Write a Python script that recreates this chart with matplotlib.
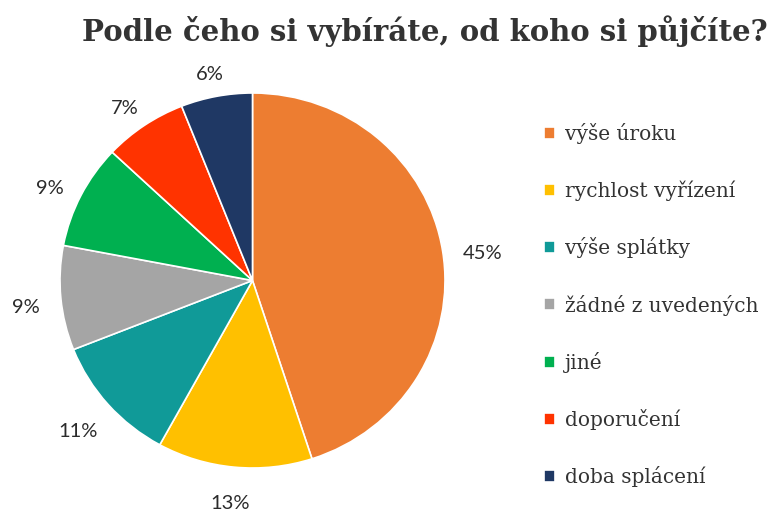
import numpy as np
import matplotlib
matplotlib.use('Agg')
import matplotlib.pyplot as plt
import matplotlib.transforms as mtransforms

labels = ['výše úroku', 'rychlost vyřízení', 'výše splátky', 'žádné z uvedených',
          'jiné', 'doporučení', 'doba splácení']
shares = [45, 13, 11, 9, 9, 7, 6]
colors = ['#ED7D31', '#FFC000', '#109A98', '#A5A5A5', '#00B050', '#FF3300', '#1F3864']

W, H = 771, 513
fig = plt.figure(figsize=(W / 100, H / 100), dpi=100)
cx, cy, rx, ry = 252.5, 280.5, 192.5, 187.5
ax = fig.add_axes([(cx - rx) / W, (H - cy - ry) / H, 2 * rx / W, 2 * ry / H])
wedges, texts = ax.pie(shares, colors=colors, startangle=90, counterclock=False,
                       labels=[f'{v}%' for v in shares], labeldistance=1.0,
                       wedgeprops=dict(edgecolor='white', linewidth=1.2),
                       textprops=dict(fontsize=14.5, family='Lato', color='#2b2b2b'))
ax.set_aspect('auto'); ax.set_xlim(-1, 1); ax.set_ylim(-1, 1)

# push each label outside the rim, offset by its own half size (pixels)
gap, drop = 21, 7
fig.canvas.draw()
for w, t in zip(wedges, texts):
    a = np.deg2rad((w.theta1 + w.theta2) / 2)
    t.set_ha('center'); t.set_va('center'); t.set_clip_on(False)
    bb = t.get_window_extent()
    dx = (gap + bb.width / 2) * np.cos(a)
    dy = (gap + bb.height / 2) * np.sin(a) - drop
    t.set_position((np.cos(a), np.sin(a)))
    t.set_transform(ax.transData + mtransforms.ScaledTranslation(dx / 100, dy / 100, fig.dpi_scale_trans))

fig.text(0.551, 0.94, 'Podle čeho si vybíráte, od koho si půjčíte?', ha='center', va='center',
         fontsize=21, fontweight='bold', family='DejaVu Serif', color='#333333')
fig.legend(wedges, labels, loc='upper left', bbox_to_anchor=(0.682, 0.795), frameon=False,
           prop=dict(family='DejaVu Serif', size=14.5), handlelength=0.545, handleheight=0.545,
           handletextpad=0.5, labelspacing=1.8, labelcolor='#333333')
fig.savefig('out.png', dpi=100)
